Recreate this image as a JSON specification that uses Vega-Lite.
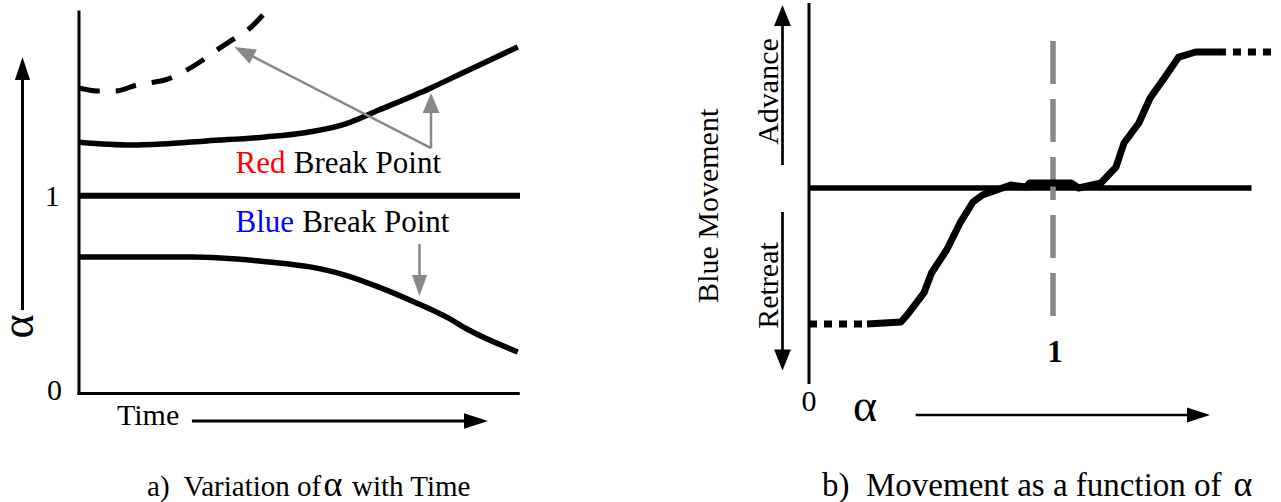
{
  "$schema": "https://vega.github.io/schema/vega-lite/v6.json",
  "padding": {"left": -4, "top": 0, "right": 0, "bottom": 0},
  "spacing": 0,
  "bounds": "flush",
  "background": "white",
  "config": {
    "view": {"stroke": null},
    "font": "Liberation Serif",
    "text": {"font": "Liberation Serif", "color": "black"}
  },
  "datasets": {
    "alphaCurves": [
      {"series": "red", "t": 0, "a": 1.27},
      {"series": "red", "t": 11.8, "a": 1.256},
      {"series": "red", "t": 18.8, "a": 1.261},
      {"series": "red", "t": 29.0, "a": 1.277},
      {"series": "red", "t": 42.3, "a": 1.297},
      {"series": "red", "t": 50.8, "a": 1.317},
      {"series": "red", "t": 60.3, "a": 1.362},
      {"series": "red", "t": 68.0, "a": 1.433},
      {"series": "red", "t": 79.8, "a": 1.545},
      {"series": "red", "t": 88.4, "a": 1.636},
      {"series": "red", "t": 99.5, "a": 1.752},
      {"series": "blue", "t": 0, "a": 0.69},
      {"series": "blue", "t": 25.9, "a": 0.69},
      {"series": "blue", "t": 43.1, "a": 0.665},
      {"series": "blue", "t": 52.4, "a": 0.64},
      {"series": "blue", "t": 60.3, "a": 0.599},
      {"series": "blue", "t": 68.0, "a": 0.538},
      {"series": "blue", "t": 76.0, "a": 0.463},
      {"series": "blue", "t": 83.7, "a": 0.382},
      {"series": "blue", "t": 88.4, "a": 0.321},
      {"series": "blue", "t": 99.5, "a": 0.21},
      {"series": "redAlt", "t": 0, "a": 1.5445},
      {"series": "redAlt", "t": 4.31, "a": 1.5293},
      {"series": "redAlt", "t": 8.16, "a": 1.5293},
      {"series": "redAlt", "t": 13.15, "a": 1.5597},
      {"series": "redAlt", "t": 17.23, "a": 1.5748},
      {"series": "redAlt", "t": 19.5, "a": 1.5849},
      {"series": "redAlt", "t": 24.04, "a": 1.6305},
      {"series": "redAlt", "t": 28.1, "a": 1.6861},
      {"series": "redAlt", "t": 31.3, "a": 1.7366},
      {"series": "redAlt", "t": 35.4, "a": 1.7973},
      {"series": "redAlt", "t": 38.8, "a": 1.8478},
      {"series": "redAlt", "t": 41.7, "a": 1.9135}
    ],
    "movement": [
      {"al": 0.2377, "mv": -1.0},
      {"al": 0.377, "mv": -0.985},
      {"al": 0.402, "mv": -0.934},
      {"al": 0.471, "mv": -0.772},
      {"al": 0.502, "mv": -0.625},
      {"al": 0.564, "mv": -0.456},
      {"al": 0.619, "mv": -0.257},
      {"al": 0.672, "mv": -0.103},
      {"al": 0.711, "mv": -0.051},
      {"al": 0.827, "mv": 0.022},
      {"al": 0.889, "mv": 0.007},
      {"al": 0.904, "mv": 0.037},
      {"al": 1.074, "mv": 0.037},
      {"al": 1.105, "mv": 0.0},
      {"al": 1.197, "mv": 0.037},
      {"al": 1.258, "mv": 0.154},
      {"al": 1.291, "mv": 0.331},
      {"al": 1.352, "mv": 0.478},
      {"al": 1.398, "mv": 0.662},
      {"al": 1.459, "mv": 0.816},
      {"al": 1.515, "mv": 0.963},
      {"al": 1.585, "mv": 1.0},
      {"al": 1.676, "mv": 1.0}
    ],
    "movementLimits": [
      {"seg": "retreat", "al": 0, "mv": -1.0},
      {"seg": "retreat", "al": 0.2377, "mv": -1.0},
      {"seg": "advance", "al": 1.676, "mv": 1.0},
      {"seg": "advance", "al": 1.918, "mv": 1.0}
    ]
  },
  "hconcat": [
    {
      "width": 640,
      "height": 502,
      "encoding": {
        "x": {"field": "t", "type": "quantitative", "scale": {"domain": [-17.914, 127.21], "nice": false, "zero": false}, "axis": null},
        "y": {"field": "a", "type": "quantitative", "scale": {"domain": [-0.5485, 1.9894], "nice": false, "zero": false}, "axis": null}
      },
      "layer": [
        {
          "data": {"values": [
            {"t": 0, "a": 1.929, "t2": 0, "a2": 0},
            {"t": 0, "a": 0, "t2": 99.6, "a2": 0}
          ]},
          "mark": {"type": "rule", "color": "black", "strokeWidth": 3, "strokeCap": "square"},
          "encoding": {"x2": {"field": "t2"}, "y2": {"field": "a2"}}
        },
        {
          "data": {"values": [{"t": 0, "a": 1, "t2": 100, "a2": 1}]},
          "mark": {"type": "rule", "color": "black", "strokeWidth": 6},
          "encoding": {"x2": {"field": "t2"}, "y2": {"field": "a2"}}
        },
        {
          "data": {"name": "alphaCurves"},
          "transform": [{"filter": "datum.series !== 'redAlt'"}],
          "mark": {"type": "line", "color": "black", "strokeWidth": 5.5, "interpolate": "monotone"},
          "encoding": {"detail": {"field": "series"}}
        },
        {
          "data": {"name": "alphaCurves"},
          "transform": [{"filter": "datum.series === 'redAlt'"}],
          "mark": {"type": "line", "color": "black", "strokeWidth": 5, "strokeDash": [21, 16], "interpolate": "monotone"},
          "encoding": {}
        },
        {
          "data": {"values": [
            {"t": 79.82, "a": 1.241, "t2": 37.27, "a2": 1.7286},
            {"t": 79.82, "a": 1.241, "t2": 79.82, "a2": 1.469},
            {"t": 77.21, "a": 0.756, "t2": 77.21, "a2": 0.5435}
          ]},
          "mark": {"type": "rule", "color": "#888888", "strokeWidth": 2.5},
          "encoding": {"x2": {"field": "t2"}, "y2": {"field": "a2"}}
        },
        {
          "data": {"values": [{"t": 35.26, "a": 1.7518}]},
          "mark": {"type": "point", "shape": "M0,0L-0.38,1L0.38,1Z", "size": 1764, "filled": true, "color": "#888888", "opacity": 1, "strokeWidth": 0, "angle": 297.2},
          "encoding": {}
        },
        {
          "data": {"values": [{"t": 79.82, "a": 1.519}]},
          "mark": {"type": "point", "shape": "M0,0L-0.42,1L0.42,1Z", "size": 1600, "filled": true, "color": "#888888", "opacity": 1, "strokeWidth": 0, "angle": 0},
          "encoding": {}
        },
        {
          "data": {"values": [{"t": 77.21, "a": 0.493}]},
          "mark": {"type": "point", "shape": "M0,0L-0.36,1L0.36,1Z", "size": 1764, "filled": true, "color": "#888888", "opacity": 1, "strokeWidth": 0, "angle": 180},
          "encoding": {}
        },
        {
          "data": {"values": [
            {"t": -12.81, "a": 0.422, "t2": -12.81, "a2": 1.6507},
            {"t": 25.6, "a": -0.139, "t2": 90.48, "a2": -0.139}
          ]},
          "mark": {"type": "rule", "color": "black", "strokeWidth": 3},
          "encoding": {"x2": {"field": "t2"}, "y2": {"field": "a2"}}
        },
        {
          "data": {"values": [{"t": -12.81, "a": 1.701}]},
          "mark": {"type": "point", "shape": "M0,0L-0.33,1L0.33,1Z", "size": 2116, "filled": true, "color": "black", "opacity": 1, "strokeWidth": 0, "angle": 0},
          "encoding": {}
        },
        {
          "data": {"values": [{"t": 92.74, "a": -0.139}]},
          "mark": {"type": "point", "shape": "M0,0L-0.32,1L0.32,1Z", "size": 2304, "filled": true, "color": "black", "opacity": 1, "strokeWidth": 0, "angle": 90},
          "encoding": {}
        },
        {
          "data": {"values": [
            {"t": -6.05, "a": 0.948, "label": "1"},
            {"t": -5.56, "a": -0.035, "label": "0"}
          ]},
          "mark": {"type": "text", "font": "Liberation Serif", "fontSize": 30, "align": "center", "baseline": "alphabetic"},
          "encoding": {"text": {"field": "label"}}
        },
        {
          "data": {"values": [{"t": 8.62, "a": -0.159, "label": "Time"}]},
          "mark": {"type": "text", "font": "Liberation Serif", "fontSize": 30, "align": "left", "baseline": "alphabetic"},
          "encoding": {"text": {"field": "label"}}
        },
        {
          "data": {"values": [
            {"t": 48.7, "a": 1.1148, "label": "Break Point"},
            {"t": 50.6, "a": 0.818, "label": "Break Point"}
          ]},
          "mark": {"type": "text", "font": "Liberation Serif", "fontSize": 31, "align": "left", "baseline": "alphabetic"},
          "encoding": {"text": {"field": "label"}}
        },
        {
          "data": {"values": [{"t": 35.49, "a": 1.1148, "label": "Red"}]},
          "mark": {"type": "text", "font": "Liberation Serif", "fontSize": 31, "align": "left", "baseline": "alphabetic", "color": "#ff0000"},
          "encoding": {"text": {"field": "label"}}
        },
        {
          "data": {"values": [{"t": 35.49, "a": 0.818, "label": "Blue"}]},
          "mark": {"type": "text", "font": "Liberation Serif", "fontSize": 31, "align": "left", "baseline": "alphabetic", "color": "#0000ff"},
          "encoding": {"text": {"field": "label"}}
        },
        {
          "data": {"values": [{"t": -10.43, "a": 0.339, "label": "α"}]},
          "mark": {"type": "text", "font": "Liberation Serif", "fontSize": 46, "align": "center", "baseline": "alphabetic", "angle": 270},
          "encoding": {"text": {"field": "label"}}
        },
        {
          "data": {"values": [
            {"t": 15.42, "a": -0.518, "label": "a)\u00a0 Variation of"},
            {"t": 61.9, "a": -0.518, "label": "with Time"}
          ]},
          "mark": {"type": "text", "font": "Liberation Serif", "fontSize": 29, "align": "left", "baseline": "alphabetic"},
          "encoding": {"text": {"field": "label"}}
        },
        {
          "data": {"values": [{"t": 57.6, "a": -0.518, "label": "α"}]},
          "mark": {"type": "text", "font": "Liberation Serif", "fontSize": 36, "align": "center", "baseline": "alphabetic"},
          "encoding": {"text": {"field": "label"}}
        }
      ]
    },
    {
      "width": 641,
      "height": 502,
      "encoding": {
        "x": {"field": "al", "type": "quantitative", "scale": {"domain": [-0.6926, 1.9344], "nice": false, "zero": false}, "axis": null},
        "y": {"field": "mv", "type": "quantitative", "scale": {"domain": [-2.3088, 1.3824], "nice": false, "zero": false}, "axis": null}
      },
      "layer": [
        {
          "data": {"values": [{"al": 0, "mv": 1.36, "al2": 0, "mv2": -1.441}]},
          "mark": {"type": "rule", "color": "black", "strokeWidth": 3},
          "encoding": {"x2": {"field": "al2"}, "y2": {"field": "mv2"}}
        },
        {
          "data": {"values": [{"al": 0, "mv": 0, "al2": 1.8135, "mv2": 0}]},
          "mark": {"type": "rule", "color": "black", "strokeWidth": 5.5},
          "encoding": {"x2": {"field": "al2"}, "y2": {"field": "mv2"}}
        },
        {
          "data": {"values": [{"al": 1, "mv": 1.081, "al2": 1, "mv2": -0.949}]},
          "mark": {"type": "rule", "color": "#888888", "strokeWidth": 5.5, "strokeDash": [43, 15]},
          "encoding": {"x2": {"field": "al2"}, "y2": {"field": "mv2"}}
        },
        {
          "data": {"name": "movement"},
          "mark": {"type": "line", "color": "black", "strokeWidth": 7, "strokeJoin": "round"},
          "encoding": {}
        },
        {
          "data": {"name": "movementLimits"},
          "mark": {"type": "line", "color": "black", "strokeWidth": 7, "strokeDash": [8, 7]},
          "encoding": {"detail": {"field": "seg"}}
        },
        {
          "data": {"values": [
            {"al": -0.1086, "mv": 0.169, "al2": -0.1086, "mv2": 1.272},
            {"al": -0.1086, "mv": -0.176, "al2": -0.1086, "mv2": -1.268},
            {"al": 0.437, "mv": -1.669, "al2": 1.6025, "mv2": -1.669}
          ]},
          "mark": {"type": "rule", "color": "black", "strokeWidth": 2.7},
          "encoding": {"x2": {"field": "al2"}, "y2": {"field": "mv2"}}
        },
        {
          "data": {"values": [{"al": -0.1086, "mv": 1.3456}]},
          "mark": {"type": "point", "shape": "M0,0L-0.4,1L0.4,1Z", "size": 1764, "filled": true, "color": "black", "opacity": 1, "strokeWidth": 0, "angle": 0},
          "encoding": {}
        },
        {
          "data": {"values": [{"al": -0.1086, "mv": -1.342}]},
          "mark": {"type": "point", "shape": "M0,0L-0.4,1L0.4,1Z", "size": 1764, "filled": true, "color": "black", "opacity": 1, "strokeWidth": 0, "angle": 180},
          "encoding": {}
        },
        {
          "data": {"values": [{"al": 1.6434, "mv": -1.669}]},
          "mark": {"type": "point", "shape": "M0,0L-0.33,1L0.33,1Z", "size": 2116, "filled": true, "color": "black", "opacity": 1, "strokeWidth": 0, "angle": 90},
          "encoding": {}
        },
        {
          "data": {"values": [
            {"al": -0.127, "mv": 0.7096, "label": "Advance"},
            {"al": -0.127, "mv": -0.717, "label": "Retreat"},
            {"al": -0.371, "mv": -0.131, "label": "Blue Movement"}
          ]},
          "mark": {"type": "text", "font": "Liberation Serif", "fontSize": 30, "align": "center", "baseline": "alphabetic", "angle": 270},
          "encoding": {"text": {"field": "label"}}
        },
        {
          "data": {"values": [{"al": 0, "mv": -1.643, "label": "0"}]},
          "mark": {"type": "text", "font": "Liberation Serif", "fontSize": 30, "align": "center", "baseline": "alphabetic"},
          "encoding": {"text": {"field": "label"}}
        },
        {
          "data": {"values": [{"al": 1.008, "mv": -1.276, "label": "1"}]},
          "mark": {"type": "text", "font": "Liberation Serif", "fontSize": 31, "fontWeight": "bold", "align": "center", "baseline": "alphabetic"},
          "encoding": {"text": {"field": "label"}}
        },
        {
          "data": {"values": [{"al": 0.2295, "mv": -1.713, "label": "α"}]},
          "mark": {"type": "text", "font": "Liberation Serif", "fontSize": 46, "align": "center", "baseline": "alphabetic"},
          "encoding": {"text": {"field": "label"}}
        },
        {
          "data": {"values": [{"al": 0.0533, "mv": -2.265, "label": "b)\u00a0 Movement as a function of"}]},
          "mark": {"type": "text", "font": "Liberation Serif", "fontSize": 33, "align": "left", "baseline": "alphabetic"},
          "encoding": {"text": {"field": "label"}}
        },
        {
          "data": {"values": [{"al": 1.7787, "mv": -2.265, "label": "α"}]},
          "mark": {"type": "text", "font": "Liberation Serif", "fontSize": 36, "align": "center", "baseline": "alphabetic"},
          "encoding": {"text": {"field": "label"}}
        }
      ]
    }
  ]
}
